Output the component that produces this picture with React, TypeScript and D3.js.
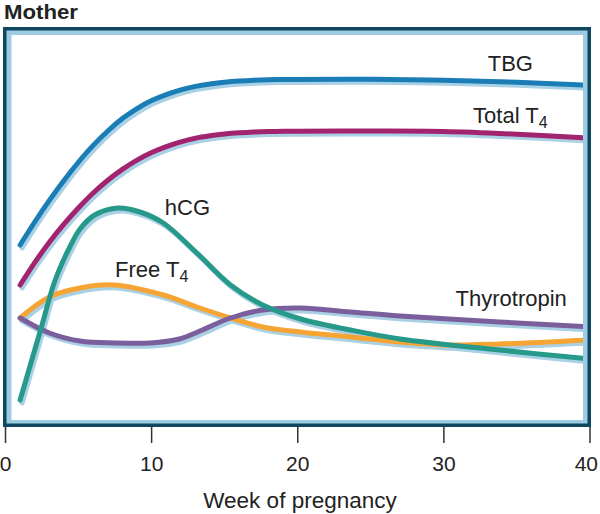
import React from "react";
import * as d3 from "d3";

// Week of pregnancy (x) vs relative level (0-100, arbitrary units)
const tbgWeeks = [1, 2, 3, 4, 5, 6, 7, 8, 9, 10, 11, 12, 13, 14, 15, 16, 17, 18, 19, 20, 25, 30, 35, 40];
const tbgValues = [45.5, 51.25, 56.65, 61.65, 66.25, 70.4, 74.0, 77.1, 79.6, 81.6, 83.1, 84.3, 85.15, 85.75, 86.2, 86.5, 86.7, 86.82, 86.88, 86.9, 86.95, 86.7, 86.2, 85.4];

const t4Weeks = [1, 2, 3, 4, 5, 6, 7, 8, 9, 10, 11, 12, 13, 14, 15, 16, 17, 18, 19, 20, 25, 30, 35, 40];
const t4Values = [35.5, 41.1, 46.2, 50.7, 54.8, 58.5, 61.7, 64.4, 66.7, 68.6, 70.1, 71.3, 72.2, 72.8, 73.25, 73.55, 73.75, 73.87, 73.93, 73.95, 74, 73.9, 73.2, 72.2];

const hcgWeeks = [1, 2.4, 3.4, 4.4, 5.1, 6.1, 7.7, 9.2, 10.8, 13.1, 15.4, 17.6, 20.2, 23.6, 27, 33.8, 40];
const hcgValues = [6.75, 24.25, 36.75, 45, 49.5, 53, 54.75, 53.75, 51, 43.5, 35.5, 30.5, 27, 24.25, 22, 19.25, 17];

const freeT4Weeks = [1, 3, 5.1, 7.4, 10.8, 13.1, 15.4, 17.6, 20.2, 23.6, 27, 30.4, 33.8, 40];
const freeT4Values = [27.25, 32.5, 34.75, 35.5, 33, 30, 27.25, 25, 23.75, 22.5, 21.25, 20.5, 20.75, 21.8];

const tshWeeks = [1, 3, 5.1, 7.5, 9.9, 11.9, 13.3, 15.4, 17.6, 20.2, 23.6, 27, 33.8, 40];
const tshValues = [27.25, 23.5, 21.5, 21, 21, 22, 24, 27.25, 29.25, 29.75, 28.75, 27.75, 26.25, 25];

const xTicks = [0, 10, 20, 30, 40];

const seriesNames = ["Free T4", "Thyrotropin", "hCG", "Total T4", "TBG"];
const seriesColors = ["#f6a535", "#7b5e9c", "#26998a", "#a2246f", "#1a7db5"];

const W = 600;
const H = 514;

export default function App() {
  const x = d3.scaleLinear().domain([0, 40]).range([5.5, 590]);
  const y = d3.scaleLinear().domain([0, 100]).range([427, 27]);

  const seriesData = [
    freeT4Weeks.map((w, i) => [w, freeT4Values[i]]),
    tshWeeks.map((w, i) => [w, tshValues[i]]),
    hcgWeeks.map((w, i) => [w, hcgValues[i]]),
    t4Weeks.map((w, i) => [w, t4Values[i]]),
    tbgWeeks.map((w, i) => [w, tbgValues[i]]),
  ];

  const line = d3
    .line<number[]>()
    .x((d) => x(d[0]))
    .y((d) => y(d[1]))
    .curve(d3.curveCatmullRom.alpha(0.5));

  const font = "'Liberation Sans', Arial, Helvetica, sans-serif";
  const labelSize = 22;

  const Sub = ({ base, sub }: { base: string; sub: string }) => (
    <>
      {base}
      <tspan fontSize={16} dy={5}>
        {sub}
      </tspan>
    </>
  );

  return (
    <svg
      width={W}
      height={H}
      style={{ position: "absolute", left: 0, top: 0, background: "#fff" }}
      fontFamily={font}
    >
      <defs>
        <clipPath id="inner">
          <rect x={11.5} y={35} width={571.5} height={385} />
        </clipPath>
      </defs>
      <text
        x={4}
        y={18.5}
        fontSize={20}
        fontWeight="bold"
        fill="#222"
        textLength={74}
        lengthAdjust="spacingAndGlyphs"
      >
        Mother
      </text>

      {/* frame */}
      <rect x={3} y={27} width={588} height={400} fill="#9dcbe1" />
      <rect x={4.75} y={28.75} width={584.5} height={396.5} fill="none" stroke="#0e475f" strokeWidth={3.5} />
      <rect x={11.5} y={35} width={571.5} height={385} fill="#fff" />

      <g clipPath="url(#inner)">
        {seriesData.map((d, i) => (
          <path
            key={"s" + i}
            d={line(d as any) || ""}
            fill="none"
            stroke="#a9d0e4"
            strokeWidth={5}
            strokeLinecap="round"
            transform="translate(2,3)"
          />
        ))}
        {seriesData.map((d, i) => (
          <path
            key={"l" + i}
            d={line(d as any) || ""}
            fill="none"
            stroke={seriesColors[i]}
            strokeWidth={5}
            strokeLinecap="round"
          >
            <title>{seriesNames[i]}</title>
          </path>
        ))}
      </g>

      {/* labels */}
      <g fontSize={labelSize} fill="#222">
        <text x={x(33)} y={y(89)}>TBG</text>
        <text x={x(32)} y={y(76)}>
          <Sub base="Total T" sub="4" />
        </text>
        <text x={x(10.9)} y={y(53)}>hCG</text>
        <text x={x(7.5)} y={y(37.5)}>
          <Sub base="Free T" sub="4" />
        </text>
        <text x={x(30.8)} y={y(30.25)}>Thyrotropin</text>
      </g>

      {/* x axis */}
      <g>
        {xTicks.map((t, i) => {
          const last = i === xTicks.length - 1;
          return (
            <g key={t} transform={`translate(${x(t)},0)`}>
              <line y1={427} y2={443} stroke="#333" strokeWidth={1.5} />
              <text
                x={last ? 8 : 0}
                y={471}
                textAnchor={last ? "end" : "middle"}
                fontSize={21}
                fill="#222"
              >
                {t}
              </text>
            </g>
          );
        })}
        <text x={300} y={508} textAnchor="middle" fontSize={22.5} fill="#222">
          Week of pregnancy
        </text>
      </g>
    </svg>
  );
}
